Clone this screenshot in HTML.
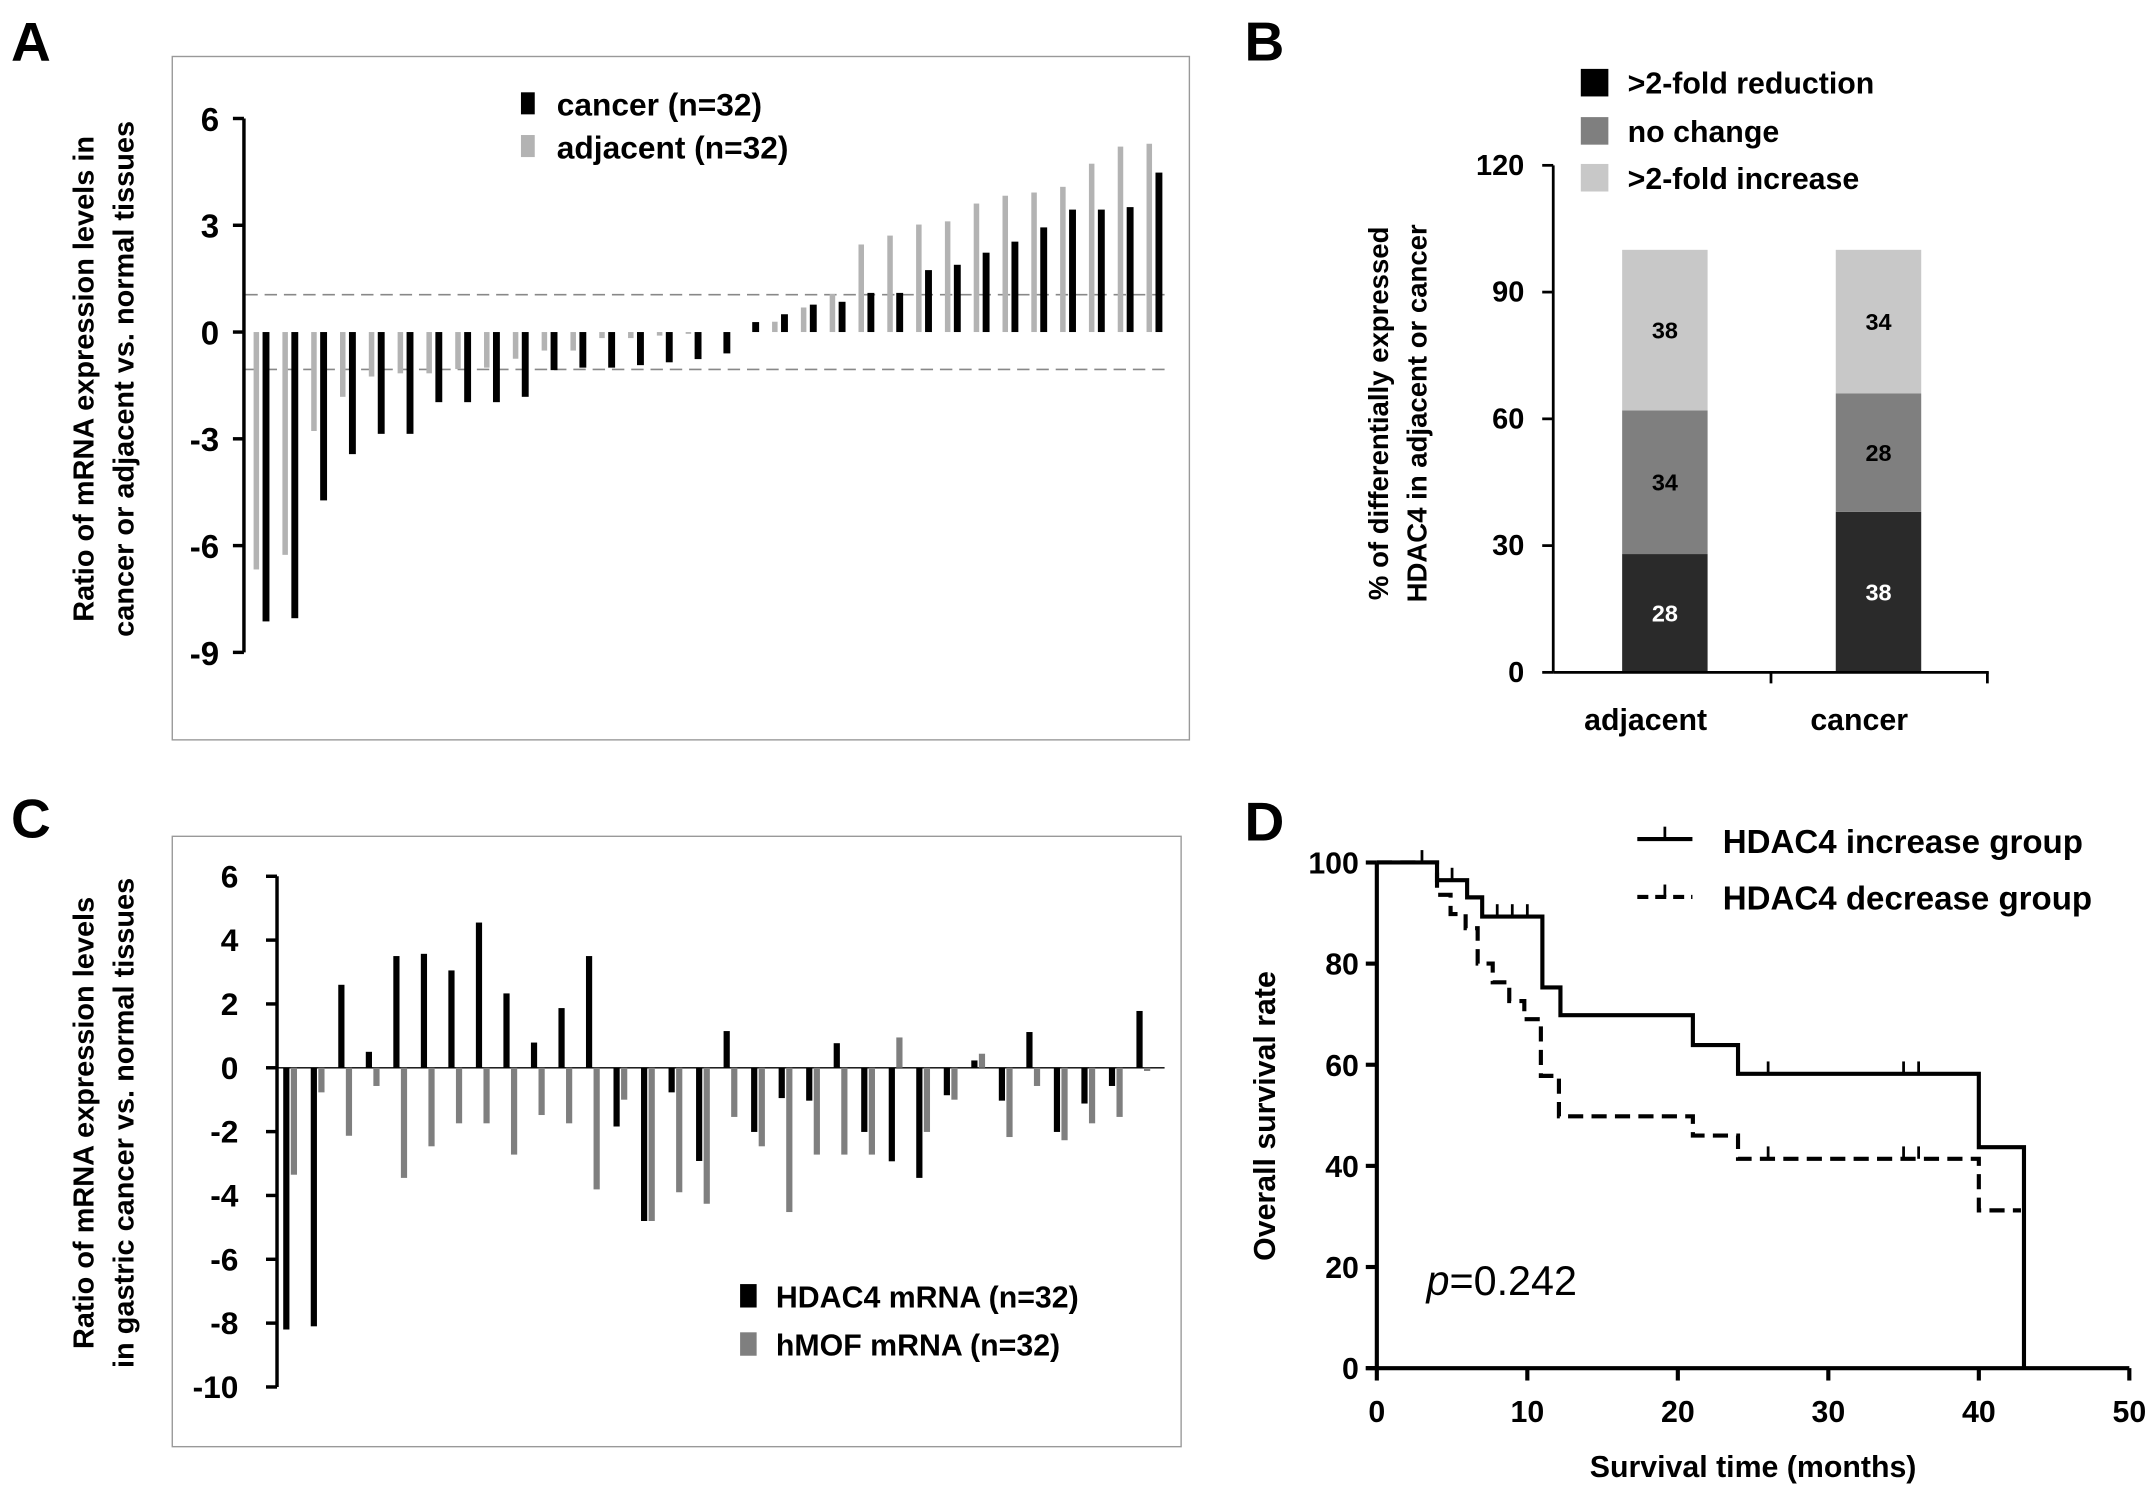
<!DOCTYPE html>
<html><head><meta charset="utf-8"><style>
html,body{margin:0;padding:0;background:#fff;}
svg{display:block;font-family:"Liberation Sans",sans-serif;font-weight:bold;}
</style></head><body>
<svg id="fig" width="2150" height="1488" viewBox="0 0 1560 1080" preserveAspectRatio="none" xmlns="http://www.w3.org/2000/svg">
<rect width="1560" height="1080" fill="#fff"/>
<text x="8" y="44" font-size="40">A</text>
<text x="903" y="44" font-size="40">B</text>
<text x="8" y="608" font-size="40">C</text>
<text x="903" y="610" font-size="40">D</text>
<g id="pa"></g>
<g id="pb"></g>
<g id="pc"></g>
<g id="pd"></g>
</svg>
<script>
// Panel A data
const aTicks = [6, 3, 0, -3, -6, -9];
const aCancer = [-8.13,-8.04,-4.73,-3.43,-2.86,-2.86,-1.97,-1.97,-1.97,-1.82,-1.07,-1.0,-1.0,-0.93,-0.85,-0.76,-0.6,0.28,0.5,0.77,0.85,1.1,1.1,1.74,1.89,2.23,2.54,2.94,3.44,3.44,3.51,4.48];
const aAdjacent = [-6.67,-6.26,-2.78,-1.82,-1.25,-1.16,-1.16,-1.04,-1.0,-0.75,-0.52,-0.52,-0.17,-0.17,-0.1,-0.05,0,0,0.29,0.69,1.07,2.46,2.71,3.02,3.11,3.61,3.83,3.92,4.08,4.73,5.21,5.29];
const aThreshold = [1.05, -1.05];
// Panel B data
const bCategories = ["adjacent", "cancer"];
const bReduction = [28, 38];
const bNoChange = [34, 28];
const bIncrease = [38, 34];
const bTicks = [0, 30, 60, 90, 120];
// Panel C data
const cTicks = [6, 4, 2, 0, -2, -4, -6, -8, -10];
const cHDAC4 = [-8.2,-8.1,2.6,0.5,3.5,3.57,3.05,4.55,2.33,0.79,1.87,3.5,-1.84,-4.8,-0.77,-2.92,1.15,-2.01,-0.95,-1.03,0.77,-2.01,-2.93,-3.45,-0.86,0.23,-1.03,1.12,-2.01,-1.12,-0.57,1.78];
const cHMOF = [-3.35,-0.77,-2.13,-0.57,-3.45,-2.46,-1.74,-1.74,-2.72,-1.48,-1.74,-3.81,-1.0,-4.8,-3.9,-4.26,-1.54,-2.46,-4.52,-2.72,-2.72,-2.72,0.95,-2.01,-1.0,0.44,-2.17,-0.57,-2.27,-1.74,-1.54,-0.1];
// Panel D data
const dIncTimes = [0,4,6,7,11,12.2,21,24,40,43];
const dIncSurv = [100,96.5,93.1,89.3,75.3,69.8,63.9,58.2,43.7,0];
const dIncCensor = [3,5,8,9,10,26,35,36];
const dDecTimes = [0,4,4.9,5.9,6.7,7.7,8.8,9.8,10.9,12.1,21,24,40,42.8];
const dDecSurv = [100,93.6,89.8,87,80,76.3,72.6,69,57.8,49.8,46,41.4,31.2,31.2];
const dDecCensor = [26,35,36];
const dXTicks = [0,10,20,30,40,50];
const dYTicks = [0,20,40,60,80,100];

const NS = "http://www.w3.org/2000/svg";
function mk(parent, tag, attrs, text){
  const e = document.createElementNS(NS, tag);
  for (const k in attrs) e.setAttribute(k, attrs[k]);
  if (text !== undefined) e.textContent = text;
  parent.appendChild(e);
  return e;
}

// ---------- Panel A ----------
(function(){
  const g = document.getElementById('pa');
  const y = v => 241 - v * (155/6);
  const x = i => 193 + i * 20.9;
  let e = mk(g,'rect',{x:125,y:41,width:738,height:496,fill:'none',stroke:'#999','stroke-width':1});
   
  aThreshold.forEach(t=>{
    e = mk(g,'line',{x1:178,x2:850,y1:y(t),y2:y(t),stroke:'#888','stroke-width':1.2,'stroke-dasharray':'9 5'});
     
  });
  aAdjacent.forEach((v,i)=>{
    e = mk(g,'rect',{x:x(i)-9,y:Math.min(y(0),y(v)),width:4,height:Math.abs(y(v)-y(0)),fill:'#b3b3b3'});
     
  });
  aCancer.forEach((v,i)=>{
    e = mk(g,'rect',{x:x(i)-2.5,y:Math.min(y(0),y(v)),width:5,height:Math.abs(y(v)-y(0)),fill:'#000'});
     
  });
  e = mk(g,'line',{x1:177,x2:177,y1:y(6),y2:y(-9),stroke:'#000','stroke-width':2.5});
   
  aTicks.forEach(t=>{
    mk(g,'line',{x1:169,x2:177,y1:y(t),y2:y(t),stroke:'#000','stroke-width':2.5});
    e = mk(g,'text',{x:159,y:y(t)+9,'font-size':24,'text-anchor':'end'},String(t));
     
  });
  e = mk(g,'rect',{x:378,y:67,width:10,height:16,fill:'#000'});
   
  e = mk(g,'text',{x:404,y:84,'font-size':23},'cancer (n=32)');
   
  e = mk(g,'rect',{x:378,y:98,width:10,height:16,fill:'#b3b3b3'});
   
  e = mk(g,'text',{x:404,y:115,'font-size':23},'adjacent (n=32)');
   
  e = mk(g,'text',{x:0,y:0,'font-size':21,'text-anchor':'middle',transform:'translate(68,275) rotate(-90)'},'Ratio of mRNA expression levels in');
   
  e = mk(g,'text',{x:0,y:0,'font-size':21,'text-anchor':'middle',transform:'translate(97,275) rotate(-90)'},'cancer or adjacent vs. normal tissues');
   
})();

// ---------- Panel B ----------
(function(){
  const g = document.getElementById('pb');
  const y = v => 488 - v * (368/120);
  const cx = [1208, 1363];
  let e;
  const layers = [[bReduction,'#2a2a2a','#fff','reduction'],[bNoChange,'#7f7f7f','#000','no-change'],[bIncrease,'#c8c8c8','#000','increase']];
  cx.forEach((c,i)=>{
    let base = 0;
    layers.forEach(L=>{
      const v = L[0][i];
      e = mk(g,'rect',{x:c-31,y:y(base+v),width:62,height:y(base)-y(base+v),fill:L[1]});
       
      e = mk(g,'text',{x:c,y:(y(base)+y(base+v))/2+6,'font-size':17,'text-anchor':'middle',fill:L[2]},String(v));
       
      base += v;
    });
    e = mk(g,'text',{x:c-14,y:530,'font-size':22,'text-anchor':'middle'},bCategories[i]);
     
  });
  e = mk(g,'line',{x1:1127,x2:1127,y1:y(120),y2:y(0),stroke:'#000','stroke-width':2});
   
  e = mk(g,'line',{x1:1127,x2:1443,y1:y(0),y2:y(0),stroke:'#000','stroke-width':2});
   
  [1285,1442].forEach(px=>mk(g,'line',{x1:px,x2:px,y1:488,y2:496,stroke:'#000','stroke-width':2}));
  bTicks.forEach(t=>{
    mk(g,'line',{x1:1119,x2:1127,y1:y(t),y2:y(t),stroke:'#000','stroke-width':2});
    e = mk(g,'text',{x:1106,y:y(t)+7,'font-size':21,'text-anchor':'end'},String(t));
     
  });
  const leg = [['#000','>2-fold reduction',50],['#7f7f7f','no change',85],['#c8c8c8','>2-fold increase',119]];
  leg.forEach(L=>{
    e = mk(g,'rect',{x:1147,y:L[2],width:20,height:20,fill:L[0]});
     
    e = mk(g,'text',{x:1181,y:L[2]+18,'font-size':22},L[1]);
     
  });
  e = mk(g,'text',{x:0,y:0,'font-size':20,'text-anchor':'middle',transform:'translate(1007,300) rotate(-90)'},'% of differentially expressed');
   
  e = mk(g,'text',{x:0,y:0,'font-size':20,'text-anchor':'middle',transform:'translate(1035,300) rotate(-90)'},'HDAC4 in adjacent or cancer');
   
})();

// ---------- Panel C ----------
(function(){
  const g = document.getElementById('pc');
  const y = v => 775 - v * (139/6);
  const x = i => 208 + i * 19.97;
  let e = mk(g,'rect',{x:125,y:607,width:732,height:443,fill:'none',stroke:'#999','stroke-width':1});
   
  mk(g,'line',{x1:200,x2:845,y1:y(0),y2:y(0),stroke:'#000','stroke-width':1});
  cHDAC4.forEach((v,i)=>{
    e = mk(g,'rect',{x:x(i)-2.5,y:Math.min(y(0),y(v)),width:4.5,height:Math.abs(y(v)-y(0)),fill:'#000'});
     
  });
  cHMOF.forEach((v,i)=>{
    e = mk(g,'rect',{x:x(i)+3,y:Math.min(y(0),y(v)),width:4.5,height:Math.abs(y(v)-y(0)),fill:'#7f7f7f'});
     
  });
  e = mk(g,'line',{x1:201,x2:201,y1:y(6),y2:y(-10),stroke:'#000','stroke-width':2.5});
   
  cTicks.forEach(t=>{
    mk(g,'line',{x1:193,x2:201,y1:y(t),y2:y(t),stroke:'#000','stroke-width':2.5});
    e = mk(g,'text',{x:173,y:y(t)+8,'font-size':23,'text-anchor':'end'},String(t));
     
  });
  e = mk(g,'rect',{x:537,y:932,width:12,height:17,fill:'#000'});
   
  e = mk(g,'text',{x:563,y:949,'font-size':22},'HDAC4 mRNA (n=32)');
   
  e = mk(g,'rect',{x:537,y:967,width:12,height:17,fill:'#7f7f7f'});
   
  e = mk(g,'text',{x:563,y:984,'font-size':22},'hMOF mRNA (n=32)');
   
  e = mk(g,'text',{x:0,y:0,'font-size':21,'text-anchor':'middle',transform:'translate(68,815) rotate(-90)'},'Ratio of mRNA expression levels');
   
  e = mk(g,'text',{x:0,y:0,'font-size':21,'text-anchor':'middle',transform:'translate(97,815) rotate(-90)'},'in gastric cancer vs. normal tissues');
   
})();

// ---------- Panel D ----------
(function(){
  const g = document.getElementById('pd');
  const x = t => 999 + t * (546/50);
  const y = s => 993 - s * (367/100);
  let e;
  function stepPath(T,S){
    let d = 'M'+x(T[0])+','+y(S[0]);
    for (let i=1;i<T.length;i++){ d += ' H'+x(T[i])+' V'+y(S[i]); }
    return d;
  }
  function survAt(T,S,t){ let s=S[0]; for(let i=0;i<T.length;i++){ if(T[i]<=t) s=S[i]; } return s; }
  e = mk(g,'path',{d:stepPath(dIncTimes,dIncSurv),fill:'none',stroke:'#000','stroke-width':3});
   
  e = mk(g,'path',{d:stepPath(dDecTimes,dDecSurv),fill:'none',stroke:'#000','stroke-width':3,'stroke-dasharray':'11 6'});
   
  dIncCensor.forEach(t=>{
    const s = survAt(dIncTimes,dIncSurv,t);
    e = mk(g,'line',{x1:x(t),x2:x(t),y1:y(s),y2:y(s)-9,stroke:'#000','stroke-width':2});
     
  });
  dDecCensor.forEach(t=>{
    const s = survAt(dDecTimes,dDecSurv,t);
    e = mk(g,'line',{x1:x(t),x2:x(t),y1:y(s),y2:y(s)-9,stroke:'#000','stroke-width':2});
     
  });
  e = mk(g,'line',{x1:x(0),x2:x(0),y1:y(100),y2:y(0),stroke:'#000','stroke-width':3});
   
  e = mk(g,'line',{x1:x(0)-8,x2:x(50),y1:y(0),y2:y(0),stroke:'#000','stroke-width':3});
   
  dYTicks.forEach(t=>{
    mk(g,'line',{x1:x(0)-8,x2:x(0),y1:y(t),y2:y(t),stroke:'#000','stroke-width':3});
    e = mk(g,'text',{x:986,y:y(t)+8,'font-size':22,'text-anchor':'end'},String(t));
     
  });
  dXTicks.forEach(t=>{
    mk(g,'line',{x1:x(t),x2:x(t),y1:y(0),y2:y(0)+9,stroke:'#000','stroke-width':3});
    e = mk(g,'text',{x:x(t),y:1032,'font-size':22,'text-anchor':'middle'},String(t));
     
  });
  e = mk(g,'text',{x:1272,y:1072,'font-size':22,'text-anchor':'middle'},'Survival time (months)');
   
  e = mk(g,'text',{x:0,y:0,'font-size':22,'text-anchor':'middle',transform:'translate(925,810) rotate(-90)'},'Overall survival rate');
   
  e = mk(g,'line',{x1:1188,x2:1228,y1:609,y2:609,stroke:'#000','stroke-width':3});
   
  mk(g,'line',{x1:1208,x2:1208,y1:609,y2:600,stroke:'#000','stroke-width':2});
  e = mk(g,'text',{x:1250,y:619,'font-size':24},'HDAC4 increase group');
   
  e = mk(g,'line',{x1:1188,x2:1228,y1:651,y2:651,stroke:'#000','stroke-width':3,'stroke-dasharray':'8 5'});
   
  mk(g,'line',{x1:1208,x2:1208,y1:651,y2:642,stroke:'#000','stroke-width':2});
  e = mk(g,'text',{x:1250,y:660,'font-size':24},'HDAC4 decrease group');
   
  e = mk(g,'text',{x:1035,y:940,'font-size':30,'font-weight':'normal'});
   
  const ts = document.createElementNS(NS,'tspan'); ts.setAttribute('font-style','italic'); ts.textContent='p'; e.appendChild(ts);
  const ts2 = document.createElementNS(NS,'tspan'); ts2.textContent='=0.242'; e.appendChild(ts2);
})();
</script>
</body></html>
